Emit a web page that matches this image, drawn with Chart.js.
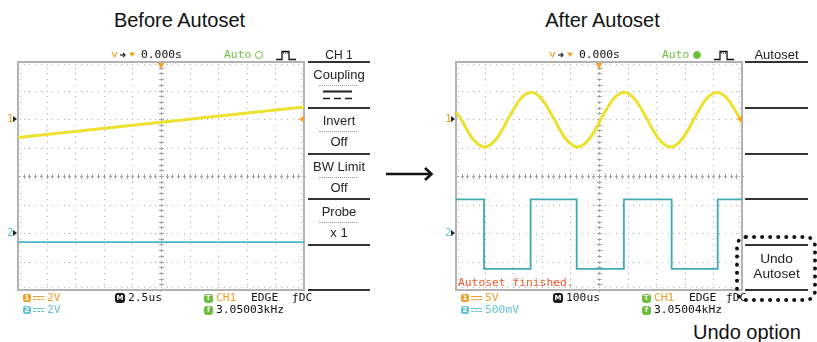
<!DOCTYPE html>
<html>
<head>
<meta charset="utf-8">
<script src="https://cdn.jsdelivr.net/npm/chart.js@4/dist/chart.umd.min.js"></script>
<style>
  html,body{margin:0;padding:0;background:#fff;}
  body{width:817px;height:342px;overflow:hidden;position:relative;font-family:"Liberation Sans",Arial,sans-serif;color:#111;}
  .a{position:absolute;white-space:nowrap;}
  .mono{font-family:"DejaVu Sans Mono",monospace;font-size:11.3px;line-height:14px;}
  .title{font-size:20px;line-height:20px;color:#111;}
  .menu{position:absolute;font-size:13px;line-height:14px;color:#222;text-align:center;width:62px;white-space:nowrap;}
  .hr{position:absolute;height:2px;background:#333;width:62px;}
  .dots{position:absolute;border-top:1px dotted #999;height:0;width:38px;}
  .badge{position:absolute;width:8px;height:8px;border-radius:2px;color:#fff;font:bold 7px/8px "DejaVu Sans",sans-serif;text-align:center;}
  .dc{position:absolute;width:11px;height:1px;}
  .dc:before{content:"";position:absolute;left:0;top:0;width:11px;height:1px;background:currentColor;}
  .dc:after{content:"";position:absolute;left:0;top:3px;width:11px;height:0;border-top:1px dashed currentColor;}
  .gnd{position:absolute;width:0;height:0;border-top:3px solid transparent;border-bottom:3px solid transparent;border-left:4px solid #222;}
  .org{color:#f0a02a;} .cy{color:#66c4d6;} .grn{color:#6cbf3a;}
  canvas{position:absolute;}
</style>
</head>
<body>
<script>
// ---------------- DATA (grid divisions; x: 0..10 div, y: -4..4 div) ----------------
const gridX = [0, 10];                 // horizontal range in divisions
const gridY = [-4, 4];                 // vertical range in divisions

// Before Autoset
const beforeCh1X = [0, 10];
const beforeCh1Y = [1.35, 2.42];
const beforeCh2X = [0, 10];
const beforeCh2Y = [-2.32, -2.32];

// After Autoset: CH1 sine
const afterCh1X = [0, 0.19, 0.39, 0.59, 0.80, 1.00, 1.20, 1.41, 1.61, 1.81, 2.02, 2.22, 2.42, 2.63, 2.83, 3.03, 3.23, 3.44, 3.64, 3.84, 4.05, 4.25, 4.45, 4.66, 4.86, 5.06, 5.27, 5.47, 5.67, 5.88, 6.08, 6.28, 6.48, 6.69, 6.89, 7.09, 7.30, 7.50, 7.70, 7.91, 8.11, 8.31, 8.52, 8.72, 8.92, 9.13, 9.33, 9.53, 9.73, 9.94, 10.0];
const afterCh1Y = [2.25, 1.98, 1.61, 1.30, 1.10, 1.02, 1.10, 1.30, 1.61, 1.98, 2.35, 2.66, 2.86, 2.94, 2.86, 2.66, 2.35, 1.98, 1.61, 1.30, 1.10, 1.02, 1.10, 1.30, 1.61, 1.98, 2.35, 2.66, 2.86, 2.94, 2.86, 2.66, 2.35, 1.98, 1.61, 1.30, 1.10, 1.02, 1.10, 1.30, 1.61, 1.98, 2.35, 2.66, 2.86, 2.94, 2.86, 2.66, 2.35, 1.98, 1.87];
// After Autoset: CH2 square
const afterCh2X = [0, 0.98, 0.98, 2.61, 2.61, 4.22, 4.22, 5.87, 5.87, 7.54, 7.54, 9.15, 9.15, 10];
const afterCh2Y = [-0.82, -0.82, -3.26, -3.26, -0.82, -0.82, -3.26, -3.26, -0.82, -0.82, -3.26, -3.26, -0.82, -0.82];

const trigPosition = 5;    // division of trigger position marker
const trigLevel = 2;       // division of trigger level marker

const titles = ["Before Autoset", "After Autoset", "Undo option"];
const leftMenu = [["Coupling", ""], ["Invert", "Off"], ["BW Limit", "Off"], ["Probe", "x 1"]];
const leftInfo = {ch1: "2V", ch2: "2V", time: "2.5us", freq: "3.05003kHz"};
const rightInfo = {ch1: "5V", ch2: "500mV", time: "100us", freq: "3.05004kHz"};

// ---------------- helpers ----------------
function pts(xs, ys){ return xs.map((x,i)=>({x:x, y:ys[i]})); }
function el(html){ document.body.insertAdjacentHTML('beforeend', html); }

const scopeGrid = {
  id: 'scopeGrid',
  beforeDatasetsDraw(chart){
    const {ctx, chartArea:a, scales:{x, y}} = chart;
    ctx.save();
    ctx.fillStyle = '#aaaaaa';
    const steps = [];
    for (let k = 0; k <= 50; k++) steps.push(k * 0.2);
    const vsteps = [];
    for (let k = 0; k <= 40; k++) vsteps.push(-4 + k * 0.2);
    for (let i = 1; i < 10; i++) {
      if (i === 5) continue;
      const px = Math.round(x.getPixelForValue(i));
      vsteps.forEach(v => ctx.fillRect(px, Math.round(y.getPixelForValue(v)), 1, 1));
    }
    for (let j = -3; j <= 3; j++) {
      if (j === 0) continue;
      const py = Math.round(y.getPixelForValue(j));
      steps.forEach(u => ctx.fillRect(Math.round(x.getPixelForValue(u)), py, 1, 1));
    }
    ctx.fillStyle = '#a4a4a4';
    const cx = Math.round(x.getPixelForValue(5));
    const cy = Math.round(y.getPixelForValue(0));
    vsteps.forEach(v => {
      const py = Math.round(y.getPixelForValue(v));
      ctx.fillRect(cx - 2, py, 5, 1); ctx.fillRect(cx, py - 1, 1, 3);
    });
    steps.forEach(u => {
      const px = Math.round(x.getPixelForValue(u));
      ctx.fillRect(px, cy - 2, 1, 5); ctx.fillRect(px - 1, cy, 3, 1);
    });
    ctx.fillStyle = '#b4b4b4';
    steps.forEach(u => {
      const px = Math.round(x.getPixelForValue(u));
      ctx.fillRect(px, Math.round(a.top) + 2, 1, 1);
      ctx.fillRect(px, Math.round(a.bottom) - 3, 1, 1);
    });
    vsteps.forEach(v => {
      const py = Math.round(y.getPixelForValue(v));
      ctx.fillRect(Math.round(a.left) + 2, py, 1, 1);
      ctx.fillRect(Math.round(a.right) - 3, py, 1, 1);
    });
    ctx.strokeStyle = '#b2b2b2';
    ctx.lineWidth = 2;
    ctx.strokeRect(a.left, a.top, a.right - a.left, a.bottom - a.top);
    ctx.restore();
  },
  afterDatasetsDraw(chart){
    const {ctx, chartArea:a, scales:{x, y}} = chart;
    ctx.save();
    ctx.fillStyle = '#f2a12a';
    const tx = x.getPixelForValue(trigPosition);
    ctx.beginPath();
    ctx.moveTo(tx - 3.5, a.top + 1); ctx.lineTo(tx + 3.5, a.top + 1); ctx.lineTo(tx, a.top + 7); ctx.closePath(); ctx.fill();
    const ly = y.getPixelForValue(trigLevel);
    ctx.beginPath();
    ctx.moveTo(a.right - 5, ly); ctx.lineTo(a.right, ly - 3.5); ctx.lineTo(a.right, ly + 3.5); ctx.closePath(); ctx.fill();
    ctx.restore();
  }
};

function makeScope(left, top, datasets){
  const c = document.createElement('canvas');
  c.width = 296; c.height = 238;
  c.style.left = left + 'px'; c.style.top = top + 'px';
  c.style.width = '296px'; c.style.height = '238px';
  document.body.appendChild(c);
  return new Chart(c.getContext('2d'), {
    type: 'line',
    data: { datasets },
    options: {
      animation: false, responsive: false, devicePixelRatio: 1, events: [],
      layout: { padding: 5 },
      plugins: { legend: { display: false }, tooltip: { enabled: false } },
      elements: { point: { radius: 0 } },
      scales: {
        x: { type: 'linear', min: gridX[0], max: gridX[1], display: false },
        y: { type: 'linear', min: gridY[0], max: gridY[1], display: false }
      }
    },
    plugins: [scopeGrid]
  });
}

const yellow = '#ebe12e';
const speck = 'rgba(85,85,55,0.7)';

makeScope(13, 57, [
  { data: pts(beforeCh1X, beforeCh1Y), borderColor: yellow, borderWidth: 3, tension: 0 },
  { data: pts(beforeCh1X, beforeCh1Y), borderColor: speck, borderWidth: 1.2, borderDash: [1.5, 4.5], tension: 0 },
  { data: pts(beforeCh2X, beforeCh2Y), borderColor: '#48b6c6', borderWidth: 1.6, tension: 0 }
]);
makeScope(451, 57, [
  { data: pts(afterCh1X, afterCh1Y), borderColor: yellow, borderWidth: 3, cubicInterpolationMode: 'monotone' },
  { data: pts(afterCh1X, afterCh1Y), borderColor: speck, borderWidth: 1.2, borderDash: [1.5, 4.5], cubicInterpolationMode: 'monotone' },
  { data: pts(afterCh2X, afterCh2Y), borderColor: '#3eabb4', borderWidth: 1.8, tension: 0 }
]);

// ---------------- text & decorations ----------------
el(`<div class="a title" style="left:179.5px;top:10px;transform:translateX(-50%)">${titles[0]}</div>`);
el(`<div class="a title" style="left:602.5px;top:10px;transform:translateX(-50%)">${titles[1]}</div>`);
el(`<div class="a title" style="left:693px;top:322px">${titles[2]}</div>`);

function scopeChrome(dx, auto, info){
  el(`<svg class="a" style="left:${110+dx}px;top:50px" width="28" height="10">
        <polyline points="2,2 4.5,7 7,2" fill="none" stroke="#f2a12a" stroke-width="1.2"/>
        <line x1="10" y1="5" x2="15" y2="5" stroke="#222" stroke-width="1.2"/>
        <polyline points="13,3 15,5 13,7" fill="none" stroke="#222" stroke-width="1.2"/>
        <polygon points="19,2.5 25,2.5 22,7" fill="#f2a12a"/></svg>`);
  el(`<div class="a mono" style="left:${141+dx}px;top:48px">0.000s</div>`);
  el(`<div class="a mono grn" style="left:${224+dx}px;top:48px">Auto</div>`);
  el(`<div class="a" style="left:${255+dx}px;top:51px;width:8px;height:8px;box-sizing:border-box;border-radius:50%;border:1.5px solid #6cbf3a;${auto?'background:#6cbf3a;':''}"></div>`);
  el(`<svg class="a" style="left:${276+dx}px;top:50px" width="21" height="11">
        <polyline points="0,9.5 6,9.5 6,1.5 13,1.5 13,9.5 20,9.5" fill="none" stroke="#111" stroke-width="1.3"/>
        <line x1="7" y1="3" x2="12" y2="3" stroke="#111" stroke-width="1" stroke-dasharray="1 1"/></svg>`);
  el(`<div class="a mono org" style="left:${7+dx}px;top:112px;font-size:11px">1</div><div class="gnd" style="left:${13+dx}px;top:116px"></div>`);
  el(`<div class="a mono cy" style="left:${7+dx}px;top:226px;font-size:11px">2</div><div class="gnd" style="left:${13+dx}px;top:230px"></div>`);
  el(`<div class="badge" style="left:${23+dx}px;top:294px;background:#f2a12a">1</div>`);
  el(`<div class="dc org" style="left:${33+dx}px;top:296px"></div>`);
  el(`<div class="a mono org" style="left:${47+dx}px;top:291px">${info.ch1}</div>`);
  el(`<div class="badge" style="left:${23+dx}px;top:306px;background:#66c4d6">2</div>`);
  el(`<div class="dc cy" style="left:${33+dx}px;top:308px"></div>`);
  el(`<div class="a mono cy" style="left:${47+dx}px;top:303px">${info.ch2}</div>`);
  el(`<div class="badge" style="left:${115+dx}px;top:293px;width:10px;height:10px;line-height:10px;background:#1a1a1a;border-radius:3px">M</div>`);
  el(`<div class="a mono" style="left:${128+dx}px;top:291px">${info.time}</div>`);
  el(`<div class="badge" style="left:${204+dx}px;top:294px;width:9px;height:9px;line-height:9px;background:#6cbf3a;border-radius:3px">T</div>`);
  el(`<div class="a mono org" style="left:${216+dx}px;top:291px">CH1</div>`);
  el(`<div class="a mono" style="left:${251+dx}px;top:291px">EDGE</div>`);
  el(`<div class="a mono" style="left:${(dx?726:292)}px;top:291px">ƒDC</div>`);
  el(`<div class="badge" style="left:${204+dx}px;top:306px;width:9px;height:9px;line-height:9px;background:#6cbf3a;border-radius:3px">f</div>`);
  el(`<div class="a mono" style="left:${216+dx}px;top:303px">${info.freq}</div>`);
}
scopeChrome(0, false, leftInfo);
scopeChrome(438, true, rightInfo);

const lm = 308;
el(`<div class="menu" style="left:${lm}px;top:48px;font-size:12px">CH 1</div>`);
[61, 107, 153, 198, 244, 289].forEach(t => el(`<div class="hr" style="left:${lm}px;top:${t}px"></div>`));
const secTops = [62, 108, 154, 199];
leftMenu.forEach((s, i) => {
  const t = secTops[i];
  el(`<div class="menu" style="left:${lm}px;top:${t+6}px">${s[0]}</div>`);
  el(`<div class="dots" style="left:${lm+11}px;top:${t+23}px"></div>`);
  if (s[1]) el(`<div class="menu" style="left:${lm}px;top:${t+27}px">${s[1]}</div>`);
});
el(`<svg class="a" style="left:322px;top:89px" width="32" height="12">
      <line x1="1" y1="2.5" x2="30" y2="2.5" stroke="#222" stroke-width="2"/>
      <line x1="1" y1="9.5" x2="30" y2="9.5" stroke="#222" stroke-width="1.6" stroke-dasharray="7 4"/></svg>`);

const rm = 745;
el(`<div class="menu" style="left:${rm}px;top:48px;width:63px">Autoset</div>`);
[61, 107, 153, 198, 244, 289].forEach(t => el(`<div class="hr" style="left:${rm}px;top:${t}px;width:63px"></div>`));
el(`<div class="menu" style="left:${rm}px;top:252px;width:63px;font-size:13.7px">Undo</div>`);
el(`<div class="menu" style="left:${rm}px;top:267px;width:63px;font-size:13.7px">Autoset</div>`);
el(`<div class="a" style="left:735px;top:235px;width:82px;height:67px;box-sizing:border-box;border:4.5px dotted #111;border-radius:11px"></div>`);

el(`<div class="a mono" style="left:458px;top:276px;color:#f0582a">Autoset finished.</div>`);

el(`<svg class="a" style="left:384px;top:164px" width="52" height="20">
      <line x1="2" y1="10" x2="47" y2="10" stroke="#111" stroke-width="2.6"/>
      <polyline points="41,4 47.5,10 41,16" fill="none" stroke="#111" stroke-width="2.6" stroke-linejoin="miter"/></svg>`);
</script>
</body>
</html>
